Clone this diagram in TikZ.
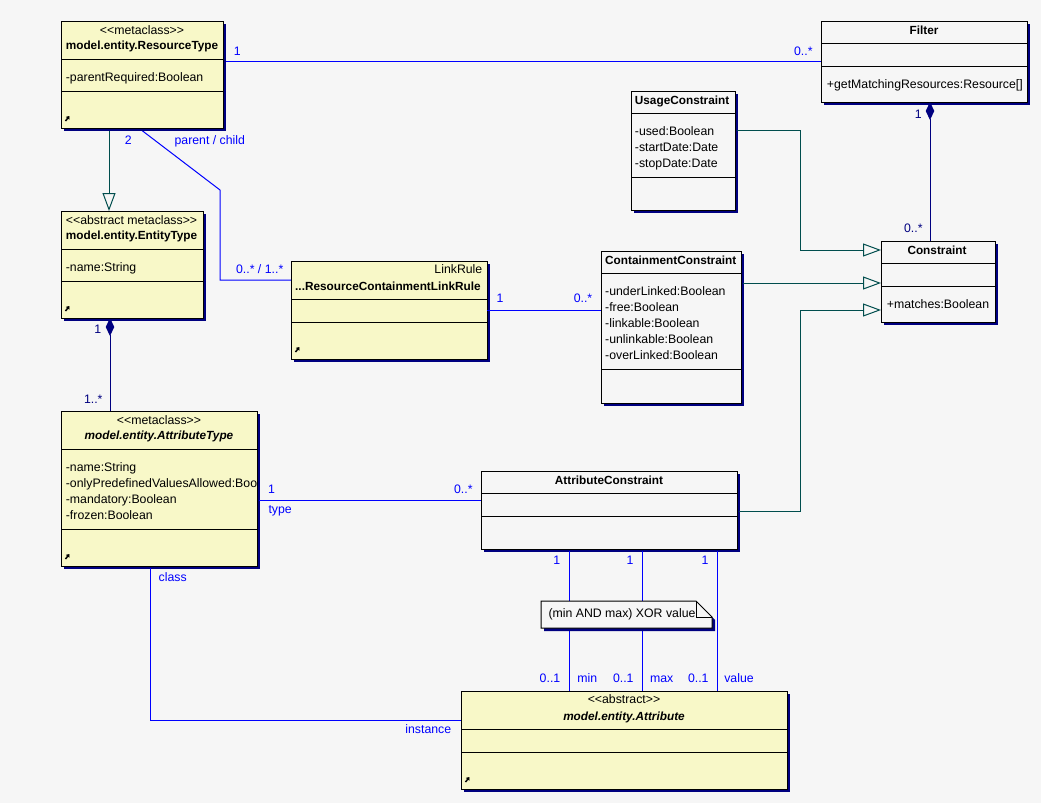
\documentclass[tikz,border=0pt]{standalone}
\usepackage{fontspec}
\setmainfont{Liberation Sans}[Ligatures=TeXOff]
\usetikzlibrary{arrows.meta,shadows,calc}
\definecolor{bg}{RGB}{246,246,246}
\definecolor{ylw}{RGB}{248,248,200}
\definecolor{shad}{RGB}{0,0,128}
\definecolor{assocc}{RGB}{0,0,255}
\definecolor{genc}{RGB}{0,77,77}
\definecolor{navyc}{RGB}{0,0,128}
\newcommand\fsn{\fontsize{12.3}{15}\selectfont}
\newcommand\fsb{\fontsize{11.8}{15}\selectfont\bfseries}
\newcommand\fsbi{\fontsize{11.8}{15}\selectfont\bfseries\itshape}
\newcommand\umlbox[8]{%
  \node[cls, fill=#8, minimum width=#4pt, minimum height=#5pt] (#1) at (#2,#3) {};
  \draw[line width=1pt] ([yshift=-#6pt]#1.north west) -- ([yshift=-#6pt]#1.north east);
  \draw[line width=1pt] ([yshift=-#7pt]#1.north west) -- ([yshift=-#7pt]#1.north east);}
\newcommand\icon[2]{\draw[line width=1.5pt, -{Triangle[length=3pt,width=4.5pt]}] (#1,#2) -- ++(4,-5);}
\begin{document}
\begin{tikzpicture}[x=1pt,y=-1pt,
  cls/.style={draw=black, line width=1pt, anchor=north west, inner sep=0, outer sep=0,
    general shadow={fill=shad, shadow xshift=3pt, shadow yshift=-3pt}},
  txt/.style={inner sep=0, anchor=base west, font=\fsn},
  ctxt/.style={inner sep=0, anchor=base, font=\fsn},
  btxt/.style={inner sep=0, anchor=base west, font=\fsb},
  cbtxt/.style={inner sep=0, anchor=base, font=\fsb},
  cbitxt/.style={inner sep=0, anchor=base, font=\fsbi},
  lbl/.style={inner sep=0, anchor=base, font=\fsn, text=assocc},
  nlbl/.style={inner sep=0, anchor=base, font=\fsn, text=navyc},
  assoc/.style={draw=assocc, line width=1pt},
  gen/.style={draw=genc, line width=1pt, -{Triangle[open, length=18pt, width=13pt, fill=bg]}},
  comp/.style={draw=navyc, line width=1pt, {Diamond[length=18pt, width=8.5pt]}-}
]
\useasboundingbox (0,0) rectangle (1041,803);
\fill[bg] (0,0) rectangle (1041,803);

% ---- class boxes ----
\umlbox{RT}{61}{21}{162}{107}{38.3}{70.3}{ylw}
\umlbox{F}{821}{21}{206}{81}{22.3}{45.7}{bg}
\umlbox{UC}{631}{91}{104}{119}{22.3}{86.3}{bg}
\umlbox{C}{881}{241}{114}{81}{22.3}{45.7}{bg}
\umlbox{CC}{601}{251}{140}{152}{22.3}{118.3}{bg}
\umlbox{ET}{61}{211}{142}{107}{38.3}{70.3}{ylw}
\umlbox{LR}{291}{261}{196}{98}{38.3}{61.7}{ylw}
\umlbox{AT}{61}{411}{196}{155}{38.3}{118.3}{ylw}
\umlbox{AC}{481}{471}{256}{78}{22.3}{45.7}{bg}
\umlbox{A}{461}{691}{326}{98}{38.3}{61.3}{ylw}

% ---- connectors ----
\draw[assoc] (RT.east |- F.west) -- (F.west);
\draw[gen] ([xshift=48pt]RT.south west) -- ([xshift=48pt]ET.north west);
\draw[assoc] ([xshift=79pt,yshift=-1pt]RT.south west) -- (220,190) |- ([yshift=-19pt]LR.north west);
\draw[assoc] (LR.east) -- (LR.east -| CC.west);
\draw[comp] ([xshift=49pt]ET.south west) -- ([xshift=49pt]AT.north west);
\draw[comp] ([xshift=109pt]F.south west) -- ([xshift=49pt]C.north west);
\draw[gen] ([xshift=2pt,yshift=-39pt]UC.north east) -- ++(63,0) |- ([yshift=-9pt]C.north west);
\coordinate (ccg) at ([xshift=2pt,yshift=-32pt]CC.north east);
\draw[gen] (ccg) -- (ccg -| C.west);
\draw[gen] ([xshift=2pt,yshift=-40pt]AC.north east) -- ++(61,0) |- ([yshift=-69pt]C.north west);
\coordinate (atac) at ([xshift=2pt,yshift=-89pt]AT.north east);
\draw[assoc] (atac) -- (atac -| AC.west);
\coordinate (m1) at ([xshift=88.3pt,yshift=-2pt]AC.south west);
\coordinate (m2) at ([xshift=161.3pt,yshift=-2pt]AC.south west);
\coordinate (m3) at ([xshift=236.3pt,yshift=-2pt]AC.south west);
\draw[assoc] (m1) -- (m1 |- A.north);
\draw[assoc] (m2) -- (m2 |- A.north);
\draw[assoc] (m3) -- (m3 |- A.north);
\coordinate (ci) at ([xshift=89.3pt,yshift=-2pt]AT.south west);
\draw[assoc] (ci) |- ([yshift=-29.3pt]A.north west);

% ---- redraw boxes over connector ends ----
\umlbox{RT}{61}{21}{162}{107}{38.3}{70.3}{ylw}
\umlbox{ET}{61}{211}{142}{107}{38.3}{70.3}{ylw}

% ---- class texts ----
\node[ctxt] (rt1) at (142,34.5) {<<metaclass>>};
\node[cbtxt] (rt2) at (142,49.5) {model.entity.ResourceType};
\node[txt] (rt3) at (65.7,81.2) {-parentRequired:Boolean};
\icon{65.5}{121}

\node[cbtxt] (f1) at (924,34) {Filter};
\node[txt] (f2) at (826.7,88) {+getMatchingResources:Resource[]};

\node[btxt] (uc1) at (634.7,104) {UsageConstraint};
\node[txt] (uc2) at (634.7,135.2) {-used:Boolean};
\node[txt] (uc3) at (634.7,151.2) {-startDate:Date};
\node[txt] (uc4) at (634.7,167.2) {-stopDate:Date};

\node[cbtxt] (c1) at (937,254) {Constraint};
\node[txt] (c2) at (886.7,308) {+matches:Boolean};

\node[btxt] (cc1) at (605,264.5) {ContainmentConstraint};
\node[txt] (cc2) at (605,295.2) {-underLinked:Boolean};
\node[txt] (cc3) at (605,311.2) {-free:Boolean};
\node[txt] (cc4) at (605,327.2) {-linkable:Boolean};
\node[txt] (cc5) at (605,343.2) {-unlinkable:Boolean};
\node[txt] (cc6) at (605,359.2) {-overLinked:Boolean};

\node[txt] (et1) at (65.7,224.5) {<<abstract metaclass>>};
\node[btxt] (et2) at (65.7,239.5) {model.entity.EntityType};
\node[txt] (et3) at (65.7,271.2) {-name:String};
\icon{65.5}{311}

\node[inner sep=0, anchor=base east, font=\fsn] (lr1) at (482.5,273.8) {LinkRule};
\node[btxt] (lr2) at (295,290.5) {...ResourceContainmentLinkRule};
\icon{295.5}{352}

\node[ctxt] (at1) at (159,424.5) {<<metaclass>>};
\node[cbitxt] (at2) at (159,439.5) {model.entity.AttributeType};
\node[txt] (at3) at (65.7,471.2) {-name:String};
\begin{scope}
\clip (61,474) rectangle (256.5,492);
\node[txt] (at4) at (65.7,487.2) {-onlyPredefinedValuesAllowed:Boo};
\end{scope}
\node[txt] (at5) at (65.7,503.2) {-mandatory:Boolean};
\node[txt] (at6) at (65.7,519.2) {-frozen:Boolean};
\icon{65.5}{559}

\node[cbtxt] (ac1) at (609,484) {AttributeConstraint};

\node[ctxt] (a1) at (624,703.8) {<<abstract>>};
\node[cbitxt] (a2) at (624,720.2) {model.entity.Attribute};
\icon{465.5}{782}

% ---- note ----
\fill[shad] (544,604) -- (699,604) -- (715,620) -- (715,631) -- (544,631) -- cycle;
\draw[line width=1pt, fill=bg] (541,601) -- (696,601) -- (712,617) -- (712,628) -- (541,628) -- cycle;
\draw[line width=1pt] (696,601) -- (696,617) -- (712,617);
\node[txt] (note) at (548.3,617.2) {(min AND max) XOR value};

% ---- connector labels ----
\node[lbl] (l1) at (237.3,55.2) {1};
\node[lbl] (l2) at (803.3,55.2) {0..*};
\node[lbl] (l3) at (128.3,144.5) {2};
\node[lbl] (l4) at (209.8,144.5) {parent / child};
\node[lbl] (l5) at (259.7,273.5) {0..* / 1..*};
\node[lbl] (l6) at (500,302.8) {1};
\node[lbl] (l7) at (583,302.8) {0..*};
\node[nlbl] (l8) at (97.7,333.8) {1};
\node[nlbl] (l9) at (93.3,403.8) {1..*};
\node[nlbl] (l10) at (918.3,118.5) {1};
\node[nlbl] (l11) at (913.3,232.8) {0..*};
\node[lbl] (l12) at (271.5,493.8) {1};
\node[lbl, anchor=base west] (l13) at (268.3,513.2) {type};
\node[lbl] (l14) at (463.3,493.8) {0..*};
\node[lbl] (l15) at (556.7,564.5) {1};
\node[lbl] (l16) at (630,564.5) {1};
\node[lbl] (l17) at (705,564.5) {1};
\node[lbl] (l18) at (550,682.8) {0..1};
\node[lbl] (l19) at (587.3,682.8) {min};
\node[lbl] (l20) at (623.3,682.8) {0..1};
\node[lbl] (l21) at (661.7,682.8) {max};
\node[lbl] (l22) at (698.3,682.8) {0..1};
\node[lbl] (l23) at (739,682.8) {value};
\node[lbl] (l24) at (172.7,581.8) {class};
\node[lbl] (l25) at (428.3,733.2) {instance};
\end{tikzpicture}
\end{document}
